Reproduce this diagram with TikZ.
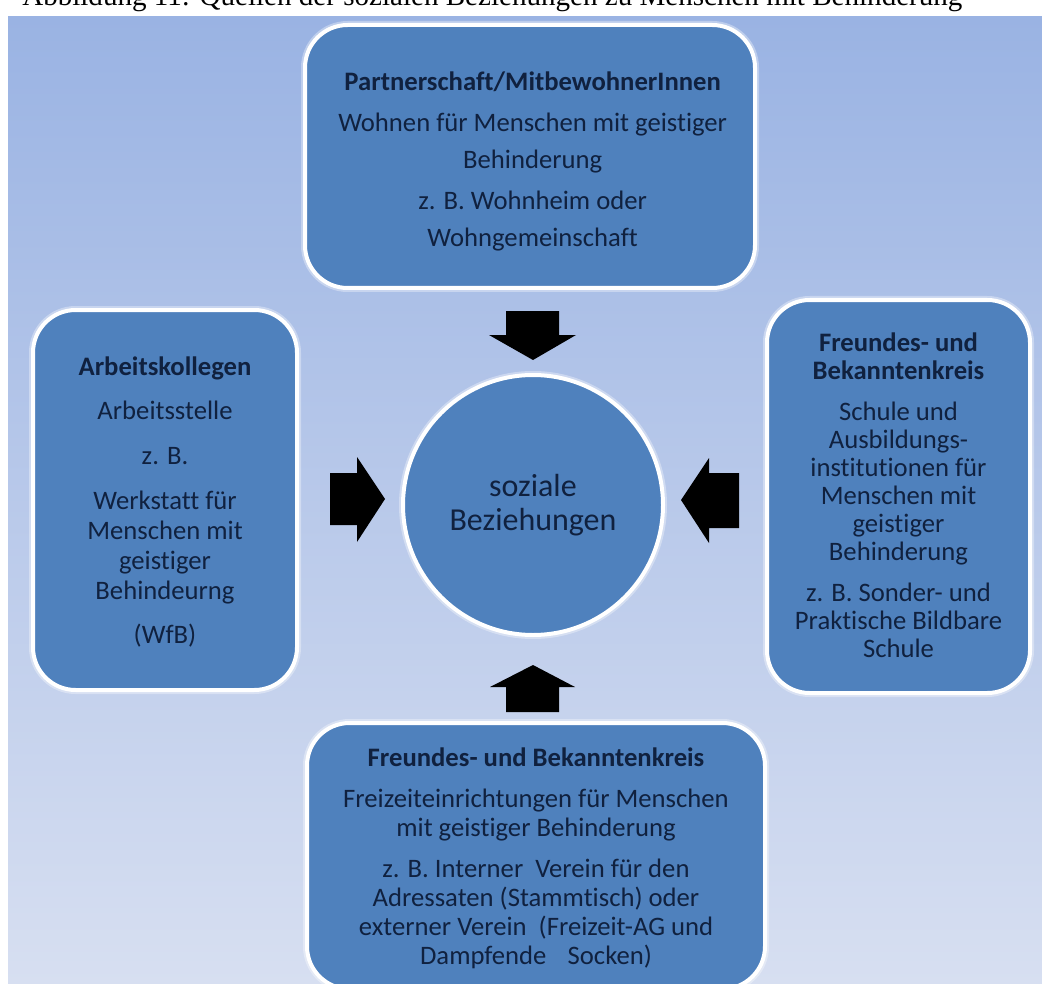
\documentclass[tikz,border=0pt]{standalone}
\usepackage{fontspec}
\setmainfont{Carlito}[Ligatures={NoCommon}]
\newfontfamily\captionfont{Liberation Serif}

\definecolor{bgtop}{HTML}{9AB3E3}
\definecolor{bgbot}{HTML}{D7DFF1}
\definecolor{boxblue}{HTML}{4F81BD}
\definecolor{ink}{HTML}{10213F}

\tikzset{
  card/.style={draw=white, line width=3pt, fill=boxblue, rounded corners=32pt,
    inner sep=0pt,
    preaction={draw=white, draw opacity=0.35, line width=6pt}},
  cardtext/.style={text=ink, align=center, inner sep=0pt},
  hub/.style={circle, draw=white, line width=3pt, fill=boxblue, text=ink,
    align=center, inner sep=0pt, minimum size=195pt,
    font=\fontsize{24}{26}\selectfont,
    preaction={draw=white, draw opacity=0.35, line width=6pt}},
  blockarrow/.style={fill=black},
}

\begin{document}
\begin{tikzpicture}[x=0.75pt, y=-0.75pt]
  % page area (pixel grid, y pointing down)
  \clip (0,0) rectangle (1042,984);
  \fill[white] (0,0) rectangle (1042,984);

  % caption line, cut off at the top edge
  \node[anchor=base west, inner sep=0pt, font=\captionfont\fontsize{21.8}{24}\selectfont]
    (caption) at (22,6) {Abbildung 11: Quellen der sozialen Beziehungen zu Menschen mit Behinderung};

  % gradient backdrop
  \fill[top color=bgtop, bottom color=bgbot] (8,17) rectangle (1042,984);

  % central circle
  \node[hub] (hub) at (533,505) {soziale\\Beziehungen};

  % top card
  \node[card, minimum width=337.5pt, minimum height=197.25pt] (wohnen) at (530,156.5) {};
  \node[cardtext, font=\fontsize{20}{27.5}\selectfont] (wohnentext)
    at ([xshift=2pt, yshift=-3.75pt]wohnen.center)
    {\textbf{Partnerschaft/MitbewohnerInnen}\\[3.5pt]
     Wohnen für Menschen mit geistiger\\Behinderung\\[3.5pt]
     z. B. Wohnheim oder\\Wohngemeinschaft};

  % left card
  \node[card, minimum width=198pt, minimum height=285pt] (arbeit) at (165,500) {};
  \node[cardtext, font=\fontsize{20}{22.5}\selectfont] (arbeittext)
    at ([yshift=-1.5pt]arbeit.center)
    {\textbf{Arbeitskollegen}\\[11pt]
     Arbeitsstelle\\[11pt]
     z. B.\\[11pt]
     Werkstatt für\\Menschen mit\\geistiger\\Behindeurng\\[11pt]
     (WfB)};

  % right card
  \node[card, minimum width=197.25pt, minimum height=294.75pt] (schule) at (898.5,496.5) {};
  \node[cardtext, font=\fontsize{20}{21}\selectfont] (schuletext)
    at ([yshift=1pt]schule.center)
    {\textbf{Freundes- und}\\\textbf{Bekanntenkreis}\\[9.5pt]
     Schule und\\Ausbildungs-\\institutionen für\\Menschen mit\\geistiger\\Behinderung\\[9.5pt]
     z. B. Sonder- und\\Praktische Bildbare\\Schule};

  % bottom card (runs past the lower edge)
  \node[card, minimum width=343.5pt, minimum height=199.5pt] (freizeit) at (536,856) {};
  \node[cardtext, font=\fontsize{20}{21.75}\selectfont] (freizeittext)
    at ([yshift=-1.5pt]freizeit.center)
    {\textbf{Freundes- und Bekanntenkreis}\\[9pt]
     Freizeiteinrichtungen für Menschen\\mit geistiger Behinderung\\[9pt]
     z. B. Interner\ \ Verein für den\\Adressaten (Stammtisch) oder\\
     externer Verein\ \ (Freizeit-AG und\\Dampfende\hspace{0.8em}Socken)};

  % block arrows pointing at the circle
  \fill[blockarrow] (506,311) -- (559,311) -- (559,335) -- (576,335)
    -- (533,360) -- (489,335) -- (506,335) -- cycle;
  \fill[blockarrow] (533,665) -- (575,687) -- (559,687) -- (559,712)
    -- (506,712) -- (506,687) -- (490,687) -- cycle;
  \fill[blockarrow] (330,473) -- (357,473) -- (357,457) -- (385,499)
    -- (357,542) -- (357,525) -- (330,525) -- cycle;
  \fill[blockarrow] (681,500) -- (709,458) -- (709,473) -- (739,473)
    -- (739,528) -- (709,528) -- (709,543) -- cycle;
\end{tikzpicture}
\end{document}
